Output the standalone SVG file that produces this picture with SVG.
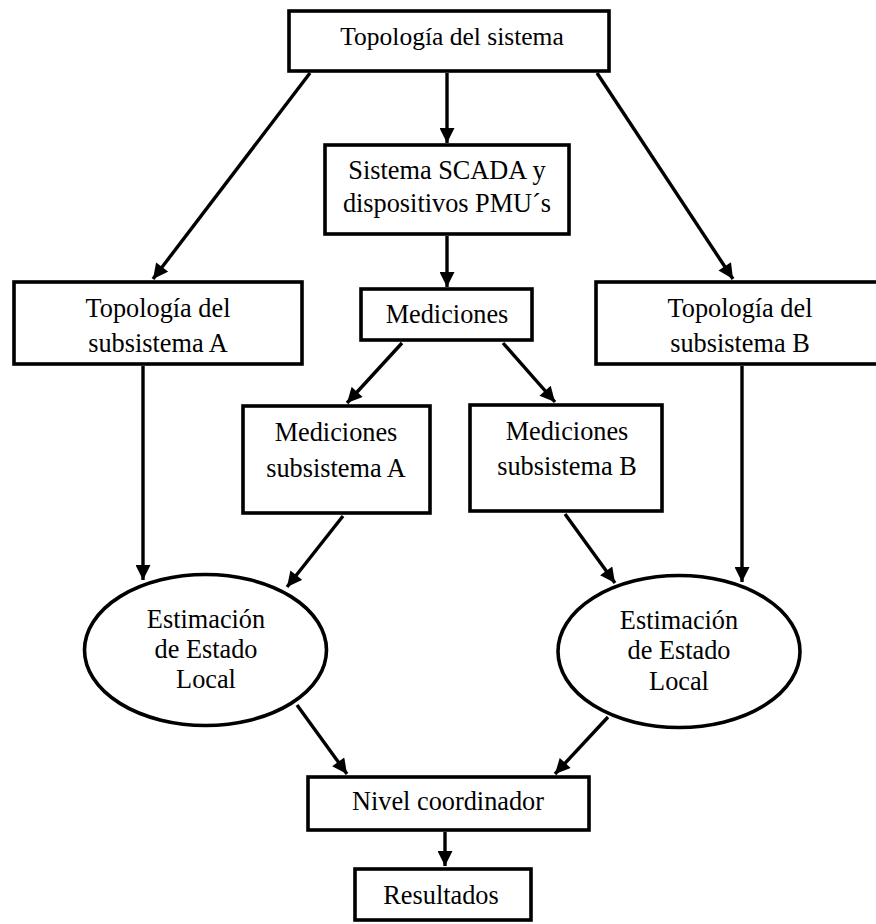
<svg xmlns="http://www.w3.org/2000/svg" width="876" height="924" viewBox="0 0 876 924">
<style>
.box{fill:#fff;stroke:#000;stroke-width:3.6}
.t{font-family:"Liberation Serif","Times New Roman",serif;font-size:26.3px;fill:#000;text-anchor:middle}
.c line{stroke:#000;stroke-width:3.4;marker-end:url(#ah)}
</style>
<defs>
<marker id="ah" viewBox="0 0 16 16" refX="16" refY="8" markerWidth="16" markerHeight="15" markerUnits="userSpaceOnUse" orient="auto">
<path d="M0,0 L16,8 L0,16 z" fill="#000"/>
</marker>
</defs>
<rect width="876" height="924" fill="#fff"/>
<g id="connectors" class="c">
<line x1="447" y1="73" x2="447" y2="143"/>
<line x1="310" y1="73" x2="153" y2="279"/>
<line x1="597" y1="73" x2="733" y2="279"/>
<line x1="447" y1="236" x2="447" y2="287"/>
<line x1="402" y1="343" x2="347" y2="403"/>
<line x1="503" y1="343" x2="555" y2="402"/>
<line x1="143" y1="366" x2="143" y2="580"/>
<line x1="343" y1="516" x2="287" y2="587"/>
<line x1="565" y1="514" x2="615" y2="583"/>
<line x1="742" y1="366" x2="742" y2="582"/>
<line x1="297" y1="705" x2="347" y2="774"/>
<line x1="608" y1="717" x2="555" y2="774"/>
<line x1="445" y1="832" x2="445" y2="866"/>
</g>
<g id="topologia-sistema">
<rect class="box" x="289" y="11" width="320" height="60"/>
<text class="t" x="452" y="45" style="font-size:25.5px">Topología del sistema</text>
</g>
<g id="scada">
<rect class="box" x="325" y="145" width="244" height="89"/>
<text class="t" x="447" y="179">Sistema SCADA y</text>
<text class="t" x="447" y="212">dispositivos PMU´s</text>
</g>
<g id="mediciones">
<rect class="box" x="361" y="289" width="171" height="51"/>
<text class="t" x="447" y="323">Mediciones</text>
</g>
<g id="topologia-a">
<rect class="box" x="14" y="282" width="288" height="82"/>
<text class="t" x="158" y="317">Topología del</text>
<text class="t" x="158" y="352">subsistema A</text>
</g>
<g id="topologia-b">
<rect class="box" x="596" y="282" width="290" height="82"/>
<text class="t" x="740" y="317">Topología del</text>
<text class="t" x="740" y="352">subsistema B</text>
</g>
<g id="mediciones-a">
<rect class="box" x="243" y="406" width="187" height="107"/>
<text class="t" x="336" y="441">Mediciones</text>
<text class="t" x="336" y="477">subsistema A</text>
</g>
<g id="mediciones-b">
<rect class="box" x="470" y="405" width="192" height="106"/>
<text class="t" x="567" y="440">Mediciones</text>
<text class="t" x="567" y="475">subsistema B</text>
</g>
<g id="estimacion-a">
<ellipse class="box" cx="205.5" cy="650" rx="121" ry="75.5"/>
<text class="t" x="206" y="628">Estimación</text>
<text class="t" x="206" y="658">de Estado</text>
<text class="t" x="206" y="688">Local</text>
</g>
<g id="estimacion-b">
<ellipse class="box" cx="679" cy="651.5" rx="121" ry="76"/>
<text class="t" x="679" y="629">Estimación</text>
<text class="t" x="679" y="659">de Estado</text>
<text class="t" x="679" y="690">Local</text>
</g>
<g id="nivel-coordinador">
<rect class="box" x="308" y="777" width="281" height="53"/>
<text class="t" x="448" y="810">Nivel coordinador</text>
</g>
<g id="resultados">
<rect class="box" x="355" y="869" width="176" height="51"/>
<text class="t" x="441" y="904">Resultados</text>
</g>
</svg>
